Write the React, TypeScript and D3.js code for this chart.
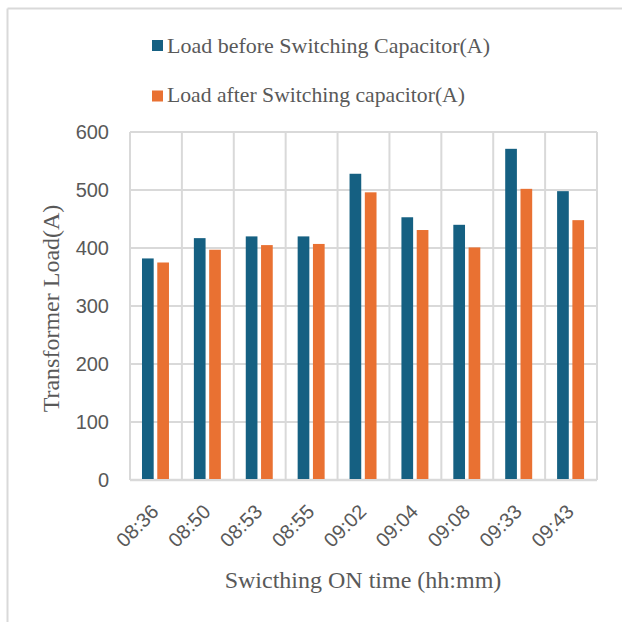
import React from "react";
import * as d3 from "d3";

const categories = ["08:36", "08:50", "08:53", "08:55", "09:02", "09:04", "09:08", "09:33", "09:43"];
const seriesNames = ["Load before Switching Capacitor(A)", "Load after Switching capacitor(A)"];
const loadBefore = [382, 417, 420, 420, 528, 453, 440, 571, 498];
const loadAfter = [375, 397, 405, 407, 496, 431, 401, 502, 448];
const yTicks = [0, 100, 200, 300, 400, 500, 600];
const colors = ["#156082", "#E97132"];

const W = 622, H = 622;
const left = 130, right = 597, top = 132, bottom = 480;
const serif = "'Liberation Serif', 'Times New Roman', serif";
const sans = "'Liberation Sans', Arial, sans-serif";
const grid = "#d9d9d9";
const textCol = "#595959";

export default function App() {
  const x = d3.scaleBand<string>().domain(categories).range([left, right]).paddingInner(0).paddingOuter(0);
  const bw = x.bandwidth();
  const x1 = d3.scaleBand<number>().domain([0, 1]).range([bw * 0.231, bw * 0.751]).paddingInner(0.235).paddingOuter(0);
  const y = d3.scaleLinear().domain([0, 600]).range([bottom, top]);
  const series = [loadBefore, loadAfter];

  return (
    <svg width={W} height={H} style={{ position: "absolute", left: 0, top: 0 }}>
      <rect x={0} y={0} width={W} height={H} fill="#fff" />
      {/* outer frame */}
      <line x1={7.5} y1={8.5} x2={W} y2={8.5} stroke={grid} strokeWidth={2} />
      <line x1={7.5} y1={8.5} x2={7.5} y2={H} stroke={grid} strokeWidth={2} />

      {/* legend */}
      {seriesNames.map((name, i) => (
        <g key={name}>
          <rect x={152} y={40 + i * 50.5} width={11} height={11} fill={colors[i]} />
          <text x={167} y={52.5 + i * 49.5} fontFamily={serif} fontSize={22} fill={textCol}
            textLength={i === 0 ? 323 : 298} lengthAdjust="spacingAndGlyphs">{name}</text>
        </g>
      ))}

      {/* horizontal grid */}
      {yTicks.map((t) => (
        <line key={"h" + t} x1={left} x2={right} y1={y(t)} y2={y(t)} stroke={grid} strokeWidth={t === 0 ? 2.5 : 2} />
      ))}
      {/* vertical grid */}
      {categories.map((c) => (
        <line key={"v" + c} x1={x(c)!} x2={x(c)!} y1={top} y2={bottom} stroke={grid} strokeWidth={2} />
      ))}
      <line x1={right} x2={right} y1={top} y2={bottom} stroke={grid} strokeWidth={2} />

      {/* bars */}
      {series.map((vals, si) =>
        vals.map((v, ci) => (
          <rect key={si + "-" + ci}
            x={x(categories[ci])! + x1(si)!}
            y={y(v)}
            width={x1.bandwidth()}
            height={y(0) - y(v) - 1}
            fill={colors[si]} />
        ))
      )}

      {/* y tick labels */}
      {yTicks.map((t) => (
        <text key={"yt" + t} x={109} y={y(t)} dy="0.36em" textAnchor="end" fontFamily={sans} fontSize={20} fill={textCol}>{t}</text>
      ))}

      {/* x tick labels */}
      {categories.map((c) => (
        <text key={"xt" + c} transform={`translate(${x(c)! + bw / 2 + 4},${bottom + 33}) rotate(-45)`}
          textAnchor="end" fontFamily={sans} fontSize={20} fill={textCol}>{c}</text>
      ))}

      {/* axis titles */}
      <text transform={`translate(59,308.5) rotate(-90)`} textAnchor="middle" fontFamily={serif} fontSize={24} fill={textCol}>Transformer Load(A)</text>
      <text x={363} y={588} textAnchor="middle" fontFamily={serif} fontSize={24} fill={textCol}>Swicthing ON time (hh:mm)</text>
    </svg>
  );
}
